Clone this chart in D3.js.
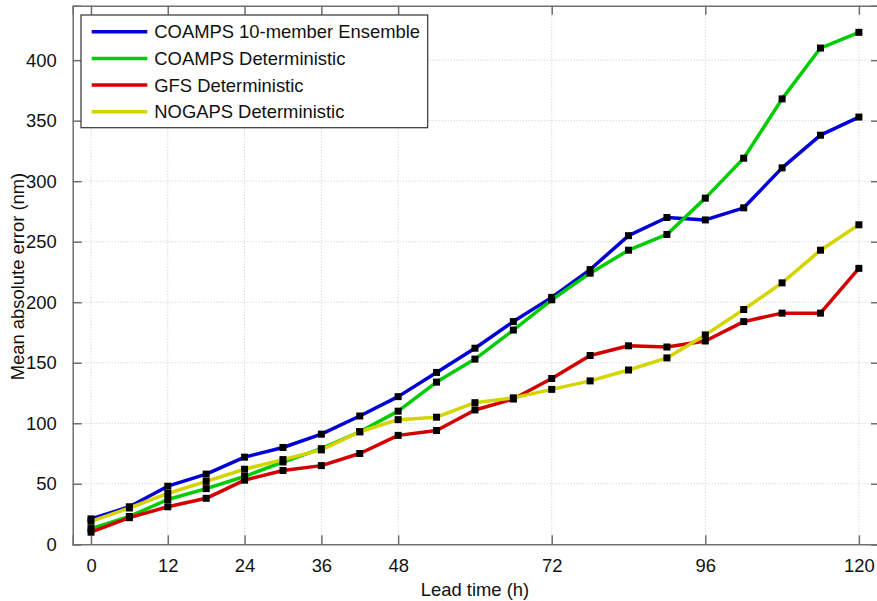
<!DOCTYPE html>
<html>
<head>
<meta charset="utf-8">
<script src="https://cdn.jsdelivr.net/npm/d3@7"></script>
<style>
  html, body { margin: 0; padding: 0; background: #fff; }
  svg { display: block; }
  text { font-family: "Liberation Sans", Arial, Helvetica, sans-serif; fill: #111; }
</style>
</head>
<body>
<svg id="chart" width="877" height="601"></svg>
<script>
// ---- data ----
const leadTimes = [0, 6, 12, 18, 24, 30, 36, 42, 48, 54, 60, 66, 72, 78, 84, 90, 96, 102, 108, 114, 120];
const ensembleValues = [21, 31, 48, 58, 72, 80, 91, 106, 122, 142, 162, 184, 204, 227, 255, 270, 268, 278, 311, 338, 353];
const coampsDetValues = [13, 23, 37, 46, 56, 68, 79, 93, 110, 134, 153, 177, 202, 224, 243, 256, 286, 319, 368, 410, 423];
const gfsDetValues = [10, 22, 31, 38, 53, 61, 65, 75, 90, 94, 111, 120, 137, 156, 164, 163, 168, 184, 191, 191, 228];
const nogapsDetValues = [19, 30, 42, 52, 62, 70, 78, 93, 103, 105, 117, 121, 128, 135, 144, 154, 173, 194, 216, 243, 264];
const seriesNames = ["COAMPS 10-member Ensemble", "COAMPS Deterministic", "GFS Deterministic", "NOGAPS Deterministic"];
const seriesColors = ["#0000d4", "#00cc00", "#d40000", "#d4d400"];
const xTickValues = [0, 12, 24, 36, 48, 72, 96, 120];
const yTickValues = [0, 50, 100, 150, 200, 250, 300, 350, 400];
const xLabel = "Lead time (h)";
const yLabel = "Mean absolute error (nm)";

const allSeries = [ensembleValues, coampsDetValues, gfsDetValues, nogapsDetValues];
const svg = d3.select("#chart");
const L = 72.7, R = 880, T = 5.7, B = 544.3;
const FS = 18.4;

const x = d3.scaleLinear().domain([-2.86, 123.3]).range([L, R]);
const y = d3.scaleLinear().domain([0, 445]).range([B, T]);

const axisColor = "#707070";

// grid
const grid = svg.append("g");
grid.selectAll("line.vg").data(xTickValues).enter().append("line")
  .attr("x1", d => x(d)).attr("x2", d => x(d)).attr("y1", T).attr("y2", B)
  .attr("stroke", "#c8c8c8").attr("stroke-width", 1).attr("stroke-dasharray", "1,2");
grid.selectAll("line.hg").data(yTickValues.slice(1)).enter().append("line")
  .attr("x1", L).attr("x2", R).attr("y1", d => y(d)).attr("y2", d => y(d))
  .attr("stroke", "#c8c8c8").attr("stroke-width", 1).attr("stroke-dasharray", "1,2");

// axes
const xAxisB = d3.axisBottom(x).tickValues(xTickValues).tickSize(-9).tickPadding(15).tickFormat(d3.format("d"));
const xAxisT = d3.axisTop(x).tickValues(xTickValues).tickSize(-9).tickFormat("");
const yAxisL = d3.axisLeft(y).tickValues(yTickValues).tickSize(-9).tickPadding(16).tickFormat(d3.format("d"));
const yAxisR = d3.axisRight(y).tickValues(yTickValues).tickSize(-9).tickFormat("");

function styleAxis(g) {
  g.select(".domain").attr("stroke", axisColor).attr("stroke-width", 1.5);
  g.selectAll(".tick line").attr("stroke", axisColor).attr("stroke-width", 1.5);
  g.selectAll(".tick text").attr("font-size", FS).attr("fill", "#111")
    .attr("font-family", "Liberation Sans, Arial, sans-serif");
}
svg.append("g").attr("transform", `translate(0,${B})`).call(xAxisB).call(styleAxis);
svg.append("g").attr("transform", `translate(0,${T})`).call(xAxisT).call(styleAxis);
svg.append("g").attr("transform", `translate(${L},0)`).call(yAxisL).call(styleAxis);
svg.append("g").attr("transform", `translate(${R},0)`).call(yAxisR).call(styleAxis);

// lines and markers
const line = d3.line().x((d, i) => x(leadTimes[i])).y(d => y(d));
allSeries.forEach((vals, k) => {
  svg.append("path").datum(vals).attr("d", line)
    .attr("fill", "none").attr("stroke", seriesColors[k]).attr("stroke-width", 3.5)
    .attr("stroke-linejoin", "round");
  svg.append("g").selectAll("rect").data(vals).enter().append("rect")
    .attr("x", (d, i) => x(leadTimes[i]) - 3.5).attr("y", d => y(d) - 3.5)
    .attr("width", 7).attr("height", 7).attr("fill", "#000");
});

// legend
const lg = svg.append("g");
lg.append("rect").attr("x", 81).attr("y", 15).attr("width", 346.7).attr("height", 112.7)
  .attr("fill", "#fff").attr("stroke", "#333").attr("stroke-width", 1.2);
seriesNames.forEach((name, k) => {
  const yy = 31.7 + k * 26.7;
  lg.append("line").attr("x1", 91.7).attr("x2", 147.3).attr("y1", yy).attr("y2", yy)
    .attr("stroke", seriesColors[k]).attr("stroke-width", 3.5);
  lg.append("text").attr("x", 154.3).attr("y", yy).attr("dy", "0.35em")
    .attr("font-size", FS).text(name);
});

// axis labels
svg.append("text").attr("x", 475).attr("y", 590).attr("dy", "0.35em")
  .attr("text-anchor", "middle").attr("font-size", FS).text(xLabel);
svg.append("text").attr("transform", "translate(17.5,276.5) rotate(-90)")
  .attr("dy", "0.35em").attr("text-anchor", "middle").attr("font-size", FS).text(yLabel);
</script>
</body>
</html>
